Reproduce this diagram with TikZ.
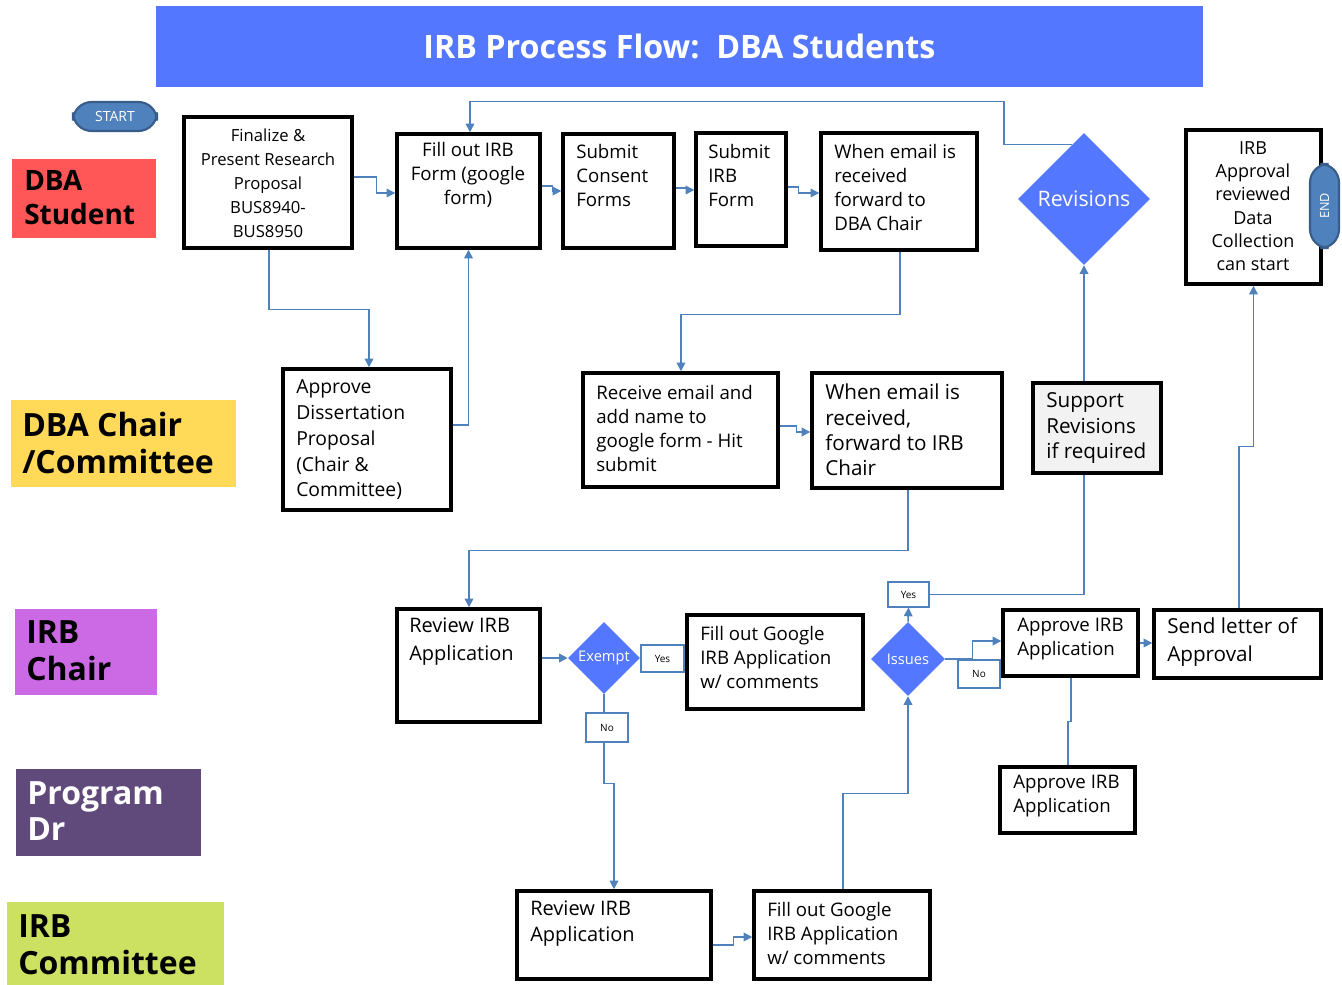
\documentclass[tikz,border=0pt]{standalone}
\usepackage{fontspec}
\setmainfont{Open Sans}
\usetikzlibrary{arrows.meta,positioning,calc,shapes.geometric}
\definecolor{IRBBlue}{HTML}{5377FF}
\definecolor{IRBLine}{HTML}{4F81BD}
\definecolor{IRBDark}{HTML}{385D8A}
\definecolor{LaneRed}{HTML}{FF5757}
\definecolor{LaneYellow}{HTML}{FFD957}
\definecolor{LaneViolet}{HTML}{CC6AE6}
\definecolor{LanePurple}{HTML}{604A7B}
\definecolor{LaneLime}{HTML}{CCE062}
\definecolor{SupportGray}{HTML}{F2F2F2}
\newdimen\pxu \pxu=0.75pt

\begin{document}
\begin{tikzpicture}[x=0.75pt, y=-0.75pt,
  box/.style={draw, line width=2.6pt, fill=#1, inner sep=0pt},
  box/.default=white,
  txt/.style={font=\fontsize{14}{18}\selectfont, align=left, inner sep=0pt, anchor=west},
  bigtxt/.style={font=\fontsize{15.5}{19}\selectfont, align=left, inner sep=0pt, anchor=west},
  lane/.style={fill=#1, inner sep=0pt},
  lanetxt/.style={font=\fontsize{24}{27.5}\selectfont\bfseries, align=left, inner sep=0pt, anchor=west},
  decision/.style={diamond, aspect=1, fill=IRBBlue, text=white, inner sep=0pt},
  tag/.style={draw=IRBLine, line width=0.9pt, fill=white, inner sep=0pt,
              font=\fontsize{7.5}{9}\selectfont},
  pill/.style={draw=IRBDark, line width=1.6pt, fill=IRBLine, text=white, inner sep=0pt},
  ln/.style={line width=1.1pt, color=IRBLine},
  arr/.style={ln, -{Triangle[length=6.5pt,width=6.5pt]}}
]
\useasboundingbox (0,0) rectangle (1342,985);

% Title banner
\node[lane=IRBBlue, minimum width=1047\pxu, minimum height=81\pxu,
      text=white, font=\fontsize{24.2}{28}\selectfont\bfseries] (title) at (679.5,46.5)
  {IRB Process Flow:\ \ DBA Students};

% Swim lane labels
\node[lane=LaneRed, minimum width=144\pxu, minimum height=79\pxu] (laneStudent) at (84,198.5) {};
\node[lanetxt, font=\fontsize{21}{25.5}\selectfont\bfseries] (laneStudentT) at (24,198) {DBA\\Student};
\node[lane=LaneYellow, minimum width=225\pxu, minimum height=87\pxu] (laneChair) at (123.5,443.5) {};
\node[lanetxt] (laneChairT) at (22,443) {DBA Chair\\/Committee};
\node[lane=LaneViolet, minimum width=142\pxu, minimum height=86\pxu] (laneIRB) at (86,652) {};
\node[lanetxt] (laneIRBT) at (26,651) {IRB\\Chair};
\node[lane=LanePurple, minimum width=185\pxu, minimum height=87\pxu] (laneProg) at (108.5,812.5) {};
\node[lanetxt, text=white] (laneProgT) at (27,811) {Program\\Dr};
\node[lane=LaneLime, minimum width=217\pxu, minimum height=83\pxu] (laneComm) at (115.5,943.5) {};
\node[lanetxt] (laneCommT) at (18,945) {IRB\\Committee};

% Start / end terminators
\node[pill, rounded corners=14pt, minimum width=84\pxu, minimum height=29\pxu,
      font=\fontsize{10.5}{12}\selectfont] (start) at (115,116.5) {START};

% DBA Student row
\node[box, minimum width=168\pxu, minimum height=131\pxu] (finalize) at (268,182.5) {};
\node[txt, anchor=center, align=center, font=\fontsize{12.5}{18}\selectfont] (finalizeT) at (268,183)
  {Finalize \&\\Present Research\\Proposal\\BUS8940-\\BUS8950};
\node[box, minimum width=143\pxu, minimum height=114\pxu] (fillirb) at (468.5,191) {};
\node[txt, anchor=center, align=center] (fillirbT) at (468,175) {Fill out IRB\\Form (google\\form)};
\node[box, minimum width=111\pxu, minimum height=114\pxu] (consent) at (618.5,191) {};
\node[txt] (consentT) at (576,175) {Submit\\Consent\\Forms};
\node[box, minimum width=90\pxu, minimum height=113\pxu] (submitirb) at (741,189.5) {};
\node[txt] (submitirbT) at (708,175) {Submit\\IRB\\Form};
\node[box, minimum width=156\pxu, minimum height=117\pxu] (email1) at (899,191.5) {};
\node[txt] (email1T) at (834,187) {When email is\\received\\forward to\\DBA Chair};
\node[decision, minimum width=132\pxu, minimum height=132\pxu,
      font=\fontsize{16}{19}\selectfont] (revisions) at (1084,199) {Revisions};
\node[box, minimum width=135\pxu, minimum height=154\pxu] (endbox) at (1253.5,207) {};
\node[txt, anchor=center, align=center, font=\fontsize{13.5}{17.5}\selectfont] (endboxT) at (1253,206)
  {IRB\\Approval\\reviewed\\Data\\Collection\\can start};
\node[pill, rounded corners=14pt, minimum width=29\pxu, minimum height=84\pxu] (finish) at (1324.5,206) {};
\node[rotate=90, text=white, font=\fontsize{9.5}{11}\selectfont, inner sep=0pt] (finishT) at (1324.5,206) {END};

% DBA Chair row
\node[box, minimum width=168\pxu, minimum height=141\pxu] (approve) at (367,439.5) {};
\node[txt, font=\fontsize{14.5}{19.3}\selectfont] (approveT) at (296,440)
  {Approve\\Dissertation\\Proposal\\(Chair \&\\Committee)};
\node[box, minimum width=195\pxu, minimum height=114\pxu] (receive) at (680.5,430) {};
\node[txt] (receiveT) at (596,428) {Receive email and\\add name to\\google form - Hit\\submit};
\node[box, minimum width=190\pxu, minimum height=115\pxu] (email2) at (907,430.5) {};
\node[bigtxt] (email2T) at (825,430) {When email is\\received,\\forward to IRB\\Chair};
\node[box=SupportGray, minimum width=128\pxu, minimum height=90\pxu] (support) at (1097,428) {};
\node[bigtxt] (supportT) at (1046,428) {Support\\Revisions\\if required};

% IRB Chair row
\node[box, minimum width=143\pxu, minimum height=113\pxu] (review1) at (468.5,665.5) {};
\node[txt, font=\fontsize{15}{21}\selectfont] (review1T) at (409,642) {Review IRB\\Application};
\node[decision, minimum width=72\pxu, minimum height=72\pxu,
      font=\fontsize{11}{13}\selectfont] (exempt) at (604,658) {Exempt};
\node[box, minimum width=176\pxu, minimum height=94\pxu] (fill1) at (775,662) {};
\node[txt] (fill1T) at (700,657) {Fill out Google\\IRB Application\\w/ comments};
\node[decision, minimum width=74\pxu, minimum height=74\pxu,
      font=\fontsize{11}{13}\selectfont] (issues) at (908,659) {Issues};
\node[box, minimum width=135\pxu, minimum height=66\pxu] (approve1) at (1070.5,643) {};
\node[txt] (approve1T) at (1017,639.5) {Approve IRB\\Application};
\node[box, minimum width=167\pxu, minimum height=68\pxu] (letter) at (1237.5,644) {};
\node[bigtxt, font=\fontsize{15.5}{21}\selectfont] (letterT) at (1167,642) {Send letter of\\Approval};

% Program Dr row
\node[box, minimum width=135\pxu, minimum height=66\pxu] (approve2) at (1067.5,800) {};
\node[txt] (approve2T) at (1013,796.5) {Approve IRB\\Application};

% IRB Committee row
\node[box, minimum width=194\pxu, minimum height=88\pxu] (review2) at (614,935) {};
\node[txt, font=\fontsize{15}{20}\selectfont] (review2T) at (530,923.5) {Review IRB\\Application};
\node[box, minimum width=176\pxu, minimum height=88\pxu] (fill2) at (842,935) {};
\node[txt] (fill2T) at (767,933) {Fill out Google\\IRB Application\\w/ comments};

% Connectors
\draw[arr] ($(finalize.east)+(0,-5.5)$) -- ++(23,0) |- ($(fillirb.west)+(0,2)$);
\draw[arr] ($(finalize.south)+(1,0)$) -- ++(0,60) -| ($(approve.north)+(2,0)$);
\draw[arr] ($(approve.east)+(0,-14.5)$) -| (fillirb.south);
\draw[arr] ($(fillirb.east)+(0,-5)$) -- ++(11,0) |- (consent.west);
\draw[arr] ($(consent.east)+(0,-3)$) -- ++(11,0) |- ($(submitirb.west)+(0,0.5)$);
\draw[arr] ($(submitirb.east)+(0,-2.5)$) -- ++(11,0) |- ($(email1.west)+(0,1.5)$);
\draw[arr] ($(email1.south)+(1,0)$) -- ++(0,63) -| ($(receive.north)+(0.5,0)$);
\draw[arr] ($(receive.east)+(0,-4)$) -- ++(17,0) |- ($(email2.west)+(0,1.5)$);
\draw[arr] ($(email2.south)+(1,0)$) -- ++(0,61) -| ($(review1.north)+(0.5,0)$);
\draw[arr] (review1.east |- exempt.west) -- (exempt.west);
\draw[ln] (exempt.east) -- (fill1.west |- exempt.east);
\draw[arr] (exempt.south) -- ++(0,89) -| (review2.north);
\draw[arr] ($(review2.east)+(0,10)$) -- ++(21,0) |- ($(fill2.west)+(0,2)$);
\draw[arr] ($(fill2.north)+(1,0)$) -- ++(0,-96) -| (issues.south);
\node[tag, minimum width=41\pxu, minimum height=25\pxu] (yes2) at (908.5,594.5) {Yes};
\draw[arr] (issues.north) -- (yes2.south);
\draw[ln] (yes2.east) -| (revisions.south |- support.south);
\draw[arr] (revisions.south |- support.north) -- (revisions.south);
\draw[arr] (issues.east) -- ++(27,0) |- ($(approve1.west)+(0,-2)$);
\draw[ln] ($(approve1.south)+(0.5,0)$) -- ++(0,44) -| ($(approve2.north)+(0.5,0)$);
\draw[arr] (approve1.east) -- (approve1.east -| letter.west);
\draw[arr] ($(letter.north)+(1.5,0)$) -- ++(0,-162) -| (endbox.south);
\draw[arr] ($(revisions.north)+(-12,12)$) -- ++(-68,0) -- ++(0,-43) -| ($(fillirb.north)+(1.5,0)$);

% Decision tags
\node[tag, minimum width=43\pxu, minimum height=27\pxu] (yes1) at (662.5,658.5) {Yes};
\node[tag, minimum width=42\pxu, minimum height=29\pxu] (no1) at (607,727.5) {No};
\node[tag, minimum width=42\pxu, minimum height=28\pxu] (no2) at (979,674) {No};

\end{tikzpicture}
\end{document}
